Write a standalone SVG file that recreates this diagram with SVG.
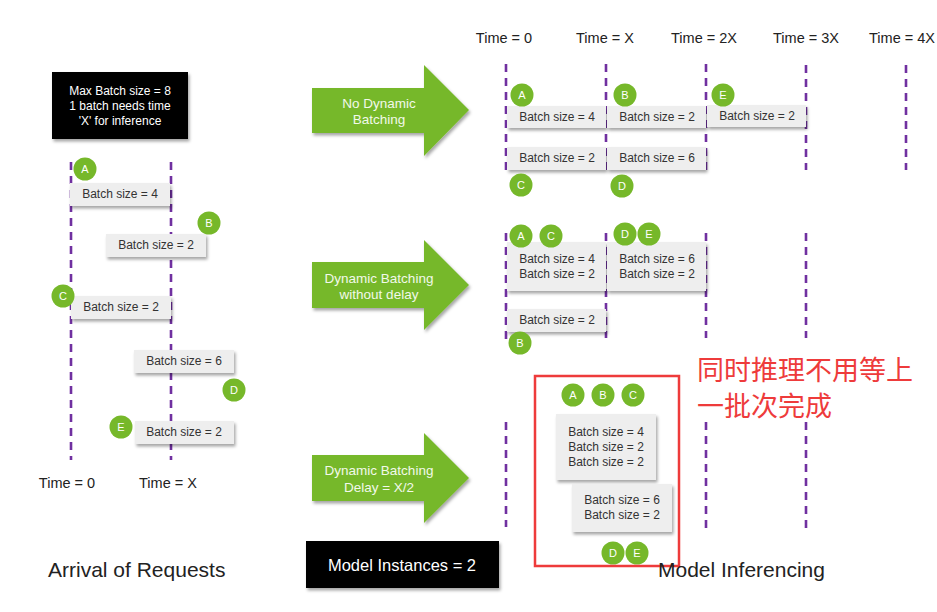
<svg xmlns="http://www.w3.org/2000/svg" width="937" height="612" viewBox="0 0 937 612">
<defs>
<filter id="sh" x="-10%" y="-20%" width="130%" height="150%">
<feDropShadow dx="1.5" dy="2.5" stdDeviation="1.5" flood-color="#000" flood-opacity="0.35"/>
</filter>
<style>
text{font-family:"Liberation Sans",Arial,sans-serif}
.tl{stroke:#7030a0;stroke-width:2.6;stroke-dasharray:8 6;fill:none}
.bx{fill:#eeeeee;filter:url(#sh)}
.bt{font-size:12px;fill:#333;text-anchor:middle}
.c circle{fill:#76b82a}
.c text{font-size:11px;fill:#fff;text-anchor:middle}
.ar{fill:#76b82a;filter:url(#sh)}
.at{font-size:13.5px;fill:#f2f9ea;text-anchor:middle}
.tm{font-size:14.5px;fill:#222;text-anchor:middle}
.big{font-size:21px;fill:#222}
.blk{fill:#000;filter:url(#sh)}
.wt{fill:#fff;text-anchor:middle}
.cn{font-family:"Noto Sans CJK SC","Liberation Sans",sans-serif;font-size:27px;fill:#ee3b3b}
</style>
</defs>
<rect width="937" height="612" fill="#fff"/>

<g id="connectors">
<!-- left timelines -->
<line class="tl" x1="71" y1="162" x2="71" y2="460"/>
<line class="tl" x1="171" y1="162" x2="171" y2="460"/>
<!-- row 1 -->
<line class="tl" x1="506" y1="64" x2="506" y2="170"/>
<line class="tl" x1="606" y1="64" x2="606" y2="170"/>
<line class="tl" x1="706" y1="64" x2="706" y2="170"/>
<line class="tl" x1="806" y1="65" x2="806" y2="170"/>
<line class="tl" x1="906" y1="65" x2="906" y2="170"/>
<!-- row 2 -->
<line class="tl" x1="506" y1="233" x2="506" y2="340"/>
<line class="tl" x1="606" y1="233" x2="606" y2="338"/>
<line class="tl" x1="706" y1="233" x2="706" y2="338"/>
<line class="tl" x1="806" y1="233" x2="806" y2="338"/>
<!-- row 3 -->
<line class="tl" x1="506" y1="422" x2="506" y2="527"/>
<line class="tl" x1="706" y1="422" x2="706" y2="528"/>
<line class="tl" x1="806" y1="422" x2="806" y2="528"/>
</g>

<g id="info-box">
<rect class="blk" x="52" y="72" width="136" height="67"/>
<text class="wt" font-size="12" x="120" y="95">Max Batch size = 8</text>
<text class="wt" font-size="12" x="120" y="110">1 batch needs time</text>
<text class="wt" font-size="12" x="120" y="125">'X' for inference</text>
</g>

<!-- left arrivals -->
<g id="arr-A">
<rect class="bx" x="70" y="183" width="100" height="23"/>
<text class="bt" x="120" y="198">Batch size = 4</text>
<g class="c"><circle cx="85" cy="169" r="11.5"/><text x="85" y="173">A</text></g>
</g>
<g id="arr-B">
<rect class="bx" x="106" y="234" width="100" height="23"/>
<text class="bt" x="156" y="249">Batch size = 2</text>
<g class="c"><circle cx="209" cy="223" r="11.5"/><text x="209" y="227">B</text></g>
</g>
<g id="arr-C">
<rect class="bx" x="71" y="296" width="100" height="23"/>
<text class="bt" x="121" y="311">Batch size = 2</text>
<g class="c"><circle cx="63" cy="296" r="11.5"/><text x="63" y="300">C</text></g>
</g>
<g id="arr-D">
<rect class="bx" x="134" y="350" width="100" height="23"/>
<text class="bt" x="184" y="365">Batch size = 6</text>
<g class="c"><circle cx="234" cy="390" r="11.5"/><text x="234" y="394">D</text></g>
</g>
<g id="arr-E">
<rect class="bx" x="135" y="421" width="99" height="23"/>
<text class="bt" x="184" y="436">Batch size = 2</text>
<g class="c"><circle cx="121" cy="427" r="11.5"/><text x="121" y="431">E</text></g>
</g>

<g id="left-labels">
<text class="tm" x="67" y="488">Time = 0</text>
<text class="tm" x="168" y="488">Time = X</text>
<text class="big" x="48" y="577">Arrival of Requests</text>
</g>

<!-- arrows -->
<g id="arrow-1">
<path class="ar" d="M312,88 H424 V65 L469,110 L424,156 V133 H312 Z"/>
<text class="at" x="379" y="108">No Dynamic</text>
<text class="at" x="379" y="124">Batching</text>
</g>
<g id="arrow-2">
<path class="ar" d="M312,262 H424 V240 L469,285 L424,330 V308 H312 Z"/>
<text class="at" x="379" y="283">Dynamic Batching</text>
<text class="at" x="379" y="299">without delay</text>
</g>
<g id="arrow-3">
<path class="ar" d="M312,455 H424 V433 L469,478 L424,523 V501 H312 Z"/>
<text class="at" x="379" y="475">Dynamic Batching</text>
<text class="at" x="379" y="492">Delay = X/2</text>
</g>
<g id="model-instances">
<rect class="blk" x="306" y="541" width="193" height="47"/>
<text class="wt" font-size="16.5" x="402" y="571">Model Instances = 2</text>
</g>

<!-- top time labels -->
<g id="time-labels">
<text class="tm" x="504" y="43">Time = 0</text>
<text class="tm" x="605" y="43">Time = X</text>
<text class="tm" x="704" y="43">Time = 2X</text>
<text class="tm" x="806" y="43">Time = 3X</text>
<text class="tm" x="902" y="43">Time = 4X</text>
</g>

<!-- row 1 -->
<g id="r1-A">
<rect class="bx" x="507" y="106" width="99" height="22"/>
<text class="bt" x="557" y="121">Batch size = 4</text>
<g class="c"><circle cx="522" cy="95" r="11.5"/><text x="522" y="99">A</text></g>
</g>
<g id="r1-B">
<rect class="bx" x="607" y="106" width="99" height="22"/>
<text class="bt" x="657" y="121">Batch size = 2</text>
<g class="c"><circle cx="625" cy="95" r="11.5"/><text x="625" y="99">B</text></g>
</g>
<g id="r1-E">
<rect class="bx" x="707" y="105" width="99" height="22"/>
<text class="bt" x="757" y="120">Batch size = 2</text>
<g class="c"><circle cx="723" cy="95" r="11.5"/><text x="723" y="99">E</text></g>
</g>
<g id="r1-C">
<rect class="bx" x="507" y="147" width="99" height="23"/>
<text class="bt" x="557" y="162">Batch size = 2</text>
<g class="c"><circle cx="521" cy="185" r="11.5"/><text x="521" y="189">C</text></g>
</g>
<g id="r1-D">
<rect class="bx" x="607" y="147" width="99" height="23"/>
<text class="bt" x="657" y="162">Batch size = 6</text>
<g class="c"><circle cx="622" cy="186" r="11.5"/><text x="622" y="190">D</text></g>
</g>

<!-- row 2 -->
<g id="r2-AC">
<rect class="bx" x="507" y="242" width="99" height="49"/>
<text class="bt" x="557" y="263">Batch size = 4</text>
<text class="bt" x="557" y="278">Batch size = 2</text>
<g class="c"><circle cx="521" cy="236" r="11.5"/><text x="521" y="240">A</text></g>
<g class="c"><circle cx="551" cy="236" r="11.5"/><text x="551" y="240">C</text></g>
</g>
<g id="r2-DE">
<rect class="bx" x="607" y="242" width="99" height="49"/>
<text class="bt" x="657" y="263">Batch size = 6</text>
<text class="bt" x="657" y="278">Batch size = 2</text>
<g class="c"><circle cx="625" cy="234" r="11.5"/><text x="625" y="238">D</text></g>
<g class="c"><circle cx="649" cy="234" r="11.5"/><text x="649" y="238">E</text></g>
</g>
<g id="r2-B">
<rect class="bx" x="507" y="309" width="99" height="23"/>
<text class="bt" x="557" y="324">Batch size = 2</text>
<g class="c"><circle cx="520" cy="343" r="11.5"/><text x="520" y="347">B</text></g>
</g>

<!-- row 3 -->
<g id="r3-ABC">
<rect class="bx" x="556" y="414" width="100" height="66"/>
<text class="bt" x="606" y="436">Batch size = 4</text>
<text class="bt" x="606" y="451">Batch size = 2</text>
<text class="bt" x="606" y="466">Batch size = 2</text>
<g class="c"><circle cx="573" cy="395" r="11.5"/><text x="573" y="399">A</text></g>
<g class="c"><circle cx="603" cy="395" r="11.5"/><text x="603" y="399">B</text></g>
<g class="c"><circle cx="633" cy="395" r="11.5"/><text x="633" y="399">C</text></g>
</g>
<g id="r3-DE">
<rect class="bx" x="572" y="484" width="100" height="48"/>
<text class="bt" x="622" y="504">Batch size = 6</text>
<text class="bt" x="622" y="519">Batch size = 2</text>
<g class="c"><circle cx="613" cy="553" r="11.5"/><text x="613" y="557">D</text></g>
<g class="c"><circle cx="637" cy="553" r="11.5"/><text x="637" y="557">E</text></g>
</g>

<g id="highlight">
<rect x="535" y="376" width="144" height="190" fill="none" stroke="#ee3b3b" stroke-width="2.5"/>
<text class="cn" x="697" y="380">同时推理不用等上</text>
<text class="cn" x="697" y="416">一批次完成</text>
</g>

<g id="right-label">
<text class="big" x="658" y="577">Model Inferencing</text>
</g>
</svg>
